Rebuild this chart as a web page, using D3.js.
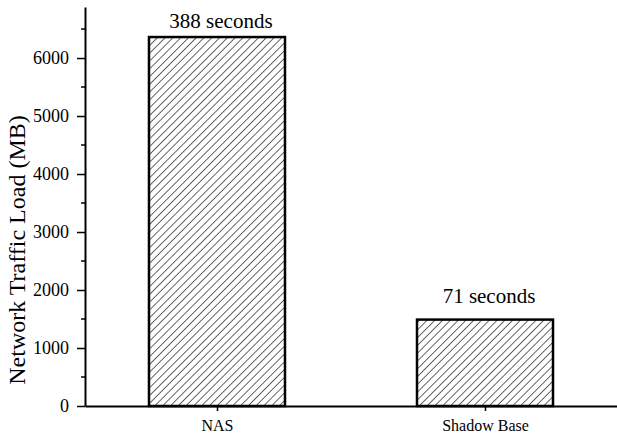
<!DOCTYPE html>
<html>
<head>
<meta charset="utf-8">
<script src="https://cdn.jsdelivr.net/npm/d3@7"></script>
<style>
  body { margin: 0; background: #fff; }
  text { font-family: "Liberation Serif", "Times New Roman", serif; fill: #000; }
</style>
</head>
<body>
<div id="chart"></div>
<script>
// data
var categories = ["NAS", "Shadow Base"];
var trafficMB = [6362, 1490];
var barLabels = ["388 seconds", "71 seconds"];
var yTicks = [0, 1000, 2000, 3000, 4000, 5000, 6000];
var yMinorTicks = [500, 1500, 2500, 3500, 4500, 5500, 6500];

var width = 617, height = 439;
var margin = {top: 7, right: 0, bottom: 33, left: 85};
var labelGap = [9, 17]; // label baseline above bar top

var svg = d3.select("#chart")
  .append("svg")
    .attr("width", width)
    .attr("height", height);

var x = d3.scalePoint()
  .domain(categories)
  .range([margin.left, width - margin.right])
  .padding(0.4925);

var y = d3.scaleLinear()
  .domain([0, 6880])
  .range([height - margin.bottom, margin.top]);

var barW = 136;

// hatch pattern
var pat = svg.append("defs").append("pattern")
  .attr("id", "hatch")
  .attr("patternUnits", "userSpaceOnUse")
  .attr("width", 5.5)
  .attr("height", 5.5)
  .attr("patternTransform", "rotate(45)");
pat.append("rect").attr("width", 5.5).attr("height", 5.5).attr("fill", "#fff");
pat.append("line")
  .attr("x1", 0).attr("y1", 0).attr("x2", 0).attr("y2", 5.5)
  .attr("stroke", "#000").attr("stroke-width", 1.2);

// bars
svg.selectAll("rect.bar")
  .data(categories)
  .enter()
  .append("rect")
    .attr("class", "bar")
    .attr("x", function(d) { return x(d) - barW / 2; })
    .attr("y", function(d, i) { return y(trafficMB[i]); })
    .attr("width", barW)
    .attr("height", function(d, i) { return y(0) - y(trafficMB[i]); })
    .attr("fill", "url(#hatch)")
    .attr("stroke", "#000")
    .attr("stroke-width", 2.5);

// bar labels
svg.selectAll("text.barlab")
  .data(categories)
  .enter()
  .append("text")
    .attr("class", "barlab")
    .attr("x", function(d) { return x(d) + 4; })
    .attr("y", function(d, i) { return y(trafficMB[i]) - labelGap[i]; })
    .attr("text-anchor", "middle")
    .style("font-size", "21px")
    .text(function(d, i) { return barLabels[i]; });

// y axis
var yAxis = svg.append("g")
  .attr("transform", "translate(" + margin.left + ",0)")
  .call(d3.axisLeft(y).tickValues(yTicks).tickFormat(d3.format("d"))
    .tickSize(8).tickPadding(8).tickSizeOuter(0));
yAxis.selectAll(".tick text").style("font-size", "18px").style("font-family", "'Liberation Serif', serif");
yAxis.select(".domain").attr("stroke-width", 2);
yAxis.selectAll(".tick line").attr("stroke-width", 1.5);

svg.append("g")
  .selectAll("line")
  .data(yMinorTicks)
  .enter()
  .append("line")
    .attr("x1", margin.left - 4)
    .attr("x2", margin.left)
    .attr("y1", function(d) { return y(d); })
    .attr("y2", function(d) { return y(d); })
    .attr("stroke", "#000")
    .attr("stroke-width", 1.5);

// x axis
var xAxis = svg.append("g")
  .attr("transform", "translate(0," + y(0) + ")")
  .call(d3.axisBottom(x).tickSize(5).tickPadding(9).tickSizeOuter(0));
xAxis.selectAll(".tick text").style("font-size", "16px").style("font-family", "'Liberation Serif', serif");
xAxis.select(".domain").attr("stroke-width", 2);
xAxis.selectAll(".tick line").attr("stroke-width", 1.5);

// y title
svg.append("text")
  .attr("transform", "translate(25,250) rotate(-90)")
  .attr("text-anchor", "middle")
  .style("font-size", "24px")
  .text("Network Traffic Load (MB)");
</script>
</body>
</html>
